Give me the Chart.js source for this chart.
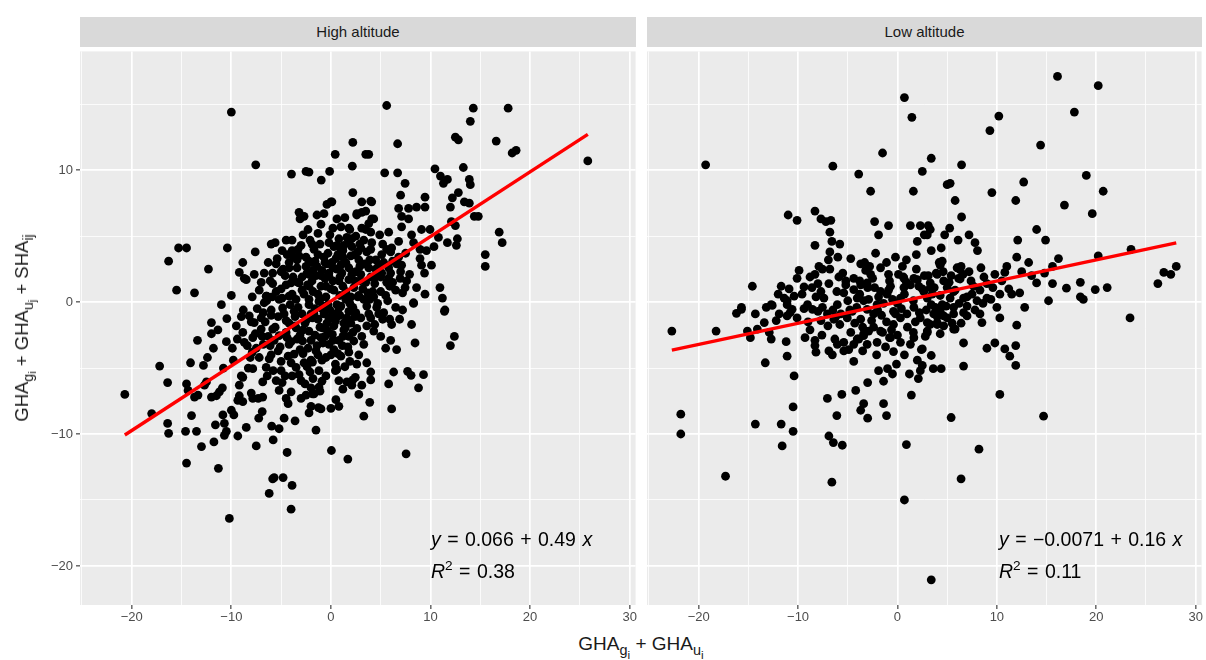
<!DOCTYPE html>
<html>
<head>
<meta charset="utf-8">
<script src="https://cdn.jsdelivr.net/npm/chart.js@4.4.1/dist/chart.umd.min.js"></script>
<style>
  body { margin: 0; width: 1206px; height: 660px; position: relative; overflow: hidden; background: #fff;
         font-family: "Liberation Sans", Arial, Helvetica, sans-serif; color: #1a1a1a; }
  canvas { position: absolute; }
  .strip { position: absolute; top: 17px; height: 30px; background: #d9d9d9; font-size: 15px;
           line-height: 30px; text-align: center; color: #1a1a1a; }
  .eq { position: absolute; font-size: 19.5px; color: #000; white-space: nowrap; line-height: 1; word-spacing: 1px; }
  .xtitle { position: absolute; left: 0; width: 1282px; top: 633px; text-align: center; font-size: 19px; }
  .ytitle { position: absolute; left: 22px; top: 328px; font-size: 18.5px; white-space: nowrap;
            transform: translate(-50%, -50%) rotate(-90deg); }
  sub { font-size: 76%; vertical-align: -0.35em; line-height: 0; }
  sub sub { font-size: 82%; vertical-align: -0.3em; }
</style>
</head>
<body>
<div class="strip" style="left:80px;width:556px;">High altitude</div>
<div class="strip" style="left:647px;width:555px;">Low altitude</div>
<canvas id="high" width="640" height="575" style="left:0;top:47px;"></canvas>
<canvas id="low" width="565" height="575" style="left:641px;top:47px;"></canvas>
<div class="eq" style="left:431px;top:530px;"><i>y</i> = 0.066 + 0.49 <i>x</i></div>
<div class="eq" style="left:431px;top:559px;"><i>R</i><sup style="font-size:70%">2</sup> = 0.38</div>
<div class="eq" style="left:999px;top:530px;"><i>y</i> = −0.0071 + 0.16 <i>x</i></div>
<div class="eq" style="left:999px;top:559px;"><i>R</i><sup style="font-size:70%">2</sup> = 0.11</div>
<div class="xtitle">GHA<sub>g<sub>i</sub></sub> + GHA<sub>u<sub>i</sub></sub></div>
<div class="ytitle">GHA<sub>g<sub>i</sub></sub> + GHA<sub>u<sub>j</sub></sub> + SHA<sub>ij</sub></div>
<script>
// panel values [GHA_g + GHA_u, GHA_g + GHA_u + SHA]
const highAlt = [
  [-10.0,14.4],[-7.55,10.4],[-3.96,9.7],[-2.5,9.9],[-2.2,9.85],[-0.97,9.25],[-0.13,9.9],[0.43,11.2],[2.2,12.1],[2.15,10.3],
  [3.5,11.2],[2.2,8.3],[3.1,7.6],[0,7.6],[-0.4,7.4],[-3.2,6.8],[-2.7,6.5],[-3.1,6.3],[-1.4,6.6],[-0.7,6.7],
  [0.6,6.3],[1.0,5.7],[1.9,5.5],[2.6,6.6],[3.1,6.8],[-2.8,5.1],[-1.3,5.2],[-0.1,5.1],[-2.1,4.7],[-4.5,4.7],
  [-3.9,4.7],[-3.0,4.3],[-6.0,4.4],[-5.6,4.5],[-4.9,3.9],[-3.9,3.9],[-7.6,3.8],[-10.4,4.1],[-15.3,4.1],[-14.5,4.1],
  [-16.3,3.1],[-12.3,2.5],[-15.5,0.9],[-13.7,0.7],[-8.85,3.0],[-9.2,2.25],[-8.5,1.7],[-7.7,2.1],[-6.7,2.2],[-5.85,2.2],
  [-5.0,2.3],[-5.85,1.4],[-4.2,2.6],[-4.0,1.45],[-3.3,1.5],[-6.45,0.45],[-6.45,0.1],[-3.2,3.5],[-2.2,3.1],[-2.2,2.1],
  [0.6,4.3],[1.3,4.3],[2.1,4.2],[3.0,4.1],[4.0,7.65],[2.6,6.7],[3.5,6.9],[4.1,6.3],[3.8,5.95],[3.1,5.6],
  [4.0,5.3],[1.8,5.6],[0.1,7.6],[5.6,14.9],[14.3,14.7],[17.8,14.7],[14.0,13.7],[12.5,12.5],[12.8,12.3],[6.7,12.0],
  [16.6,12.2],[18.2,11.3],[18.6,11.5],[25.8,10.7],[3.8,11.2],[5.4,9.8],[6.7,9.8],[7.45,9.0],[10.45,10.1],[11.0,9.55],
  [11.7,9.3],[11.3,9.0],[13.3,10.2],[13.9,9.3],[14.0,8.9],[7.0,8.1],[9.45,7.95],[12.8,8.3],[12.2,7.9],[13.4,7.6],
  [13.9,7.5],[12.0,7.2],[6.8,7.1],[7.8,7.1],[8.6,7.2],[9.45,7.2],[7.1,6.5],[7.8,6.3],[4.1,7.6],[4.3,6.3],
  [14.4,6.5],[14.8,6.5],[12.1,6.1],[12.5,5.8],[16.9,5.3],[17.2,4.5],[7.1,5.7],[5.8,5.3],[8.1,5.1],[9.1,5.5],
  [9.95,5.5],[10.8,4.9],[11.7,4.5],[12.7,4.8],[12.6,4.3],[10.35,4.2],[8.95,4.0],[8.95,3.3],[9.1,2.8],[9.4,2.2],
  [10.1,2.8],[15.5,3.6],[15.5,2.7],[6.1,4.1],[5.1,3.6],[7.1,2.8],[10.95,1.1],[11.2,0.3],[11.45,-0.6],[8.6,1.1],
  [9.45,0.6],[8.3,-0.05],[5.7,0.1],[6.95,1.8],[7.45,1.1],[5.8,1.8],[11.4,-0.7],[8.1,-1.7],[12.4,-2.6],[12.0,-3.3],
  [5.9,-1.3],[6.1,-1.7],[4.3,-2.2],[5.0,-2.6],[6.0,-2.9],[6.6,-3.6],[8.45,-3.1],[6.3,-5.3],[7.7,-5.25],[8.05,-5.55],
  [9.3,-5.5],[5.8,-6.2],[8.8,-6.5],[4.0,-5.3],[4.0,-5.9],[6.1,-8.1],[7.55,-11.5],[8.3,-0.1],[4.6,-0.4],[4.8,-0.9],
  [-20.7,-7.0],[-18.0,-8.45],[-17.2,-4.85],[-16.4,-6.1],[-16.4,-9.2],[-16.3,-9.95],[-14.6,-9.8],[-13.5,-9.8],[-14.5,-12.2],[-14.0,-8.6],
  [-14.1,-4.6],[-13.4,-2.9],[-12.4,-4.2],[-14.5,-6.2],[-14.35,-6.7],[-13.7,-7.2],[-13.35,-7.05],[-12.7,-6.3],[-12.5,-6.05],[-13.0,-10.95],
  [-11.75,-10.6],[-11.3,-12.6],[-12.0,-1.55],[-12.0,-2.4],[-11.35,-2.1],[-10.45,-1.25],[-12.0,-7.2],[-11.5,-7.1],[-11.2,-6.8],[-11.6,-9.3],
  [-10.7,-9.2],[-10.7,-10.1],[-10.5,-9.8],[-10.85,-8.55],[-10.0,-8.2],[-9.75,-8.55],[-10.2,-16.4],[-9.35,-10.15],[-8.5,-9.5],[-7.5,-10.9],
  [-9.35,-7.45],[-8.85,-7.55],[-7.85,-7.3],[-7.25,-8.8],[-5.95,-9.4],[-5.2,-9.6],[-5.8,-10.45],[-4.7,-8.8],[-4.4,-11.4],[-5.85,-13.4],
  [-5.7,-13.3],[-4.8,-13.3],[-3.9,-13.9],[-6.2,-14.5],[-4.0,-15.7],[-6.85,-7.2],[-1.5,-9.7],[0.05,-11.25],[1.7,-11.9],[-2.0,-7.9],
  [-1.25,-8.0],[-1.85,-6.95],[-1.1,-6.75],[0,-8.05],[0.8,-7.9],[3.3,-8.65],[2.45,-5.7],[3.1,-6.3],[0.45,-5.2],
  [-8.7,1.8],[-6.5,0.45],[-6.7,-0.05],[-5.5,0.8],[-4.5,1.3],[-4.2,0.45],[-3.2,1.45],[-2.35,1.3],[-0.2,1.95],[0.8,1.6],
  [2.1,2.1],[-8.2,-1.05],[-7.7,-1.55],[-7.0,-2.05],[-8.85,-2.3],[-8.7,-3.05],[-7.85,-2.7],[-7.2,-4.2],[-6.2,-4.3],[-6.5,-4.95],
  [-7.85,-5.05],[-8.85,-5.7],[-9.2,-6.3],[-6.85,-6.05],[-5.5,-5.95],[-5.2,-6.7],[-4.0,-6.8],[-5.85,-2.05],[-5.2,-2.55],[-4.5,-1.4],
  [-4.85,-0.45],[-3.7,-0.7],[-3.5,-1.95],[-4.2,-3.2],[-3.7,-3.95],[-3.5,-4.95],[-3.0,-5.95],[-2.85,-2.95],[-2.2,-2.2],[-1.85,-1.2],
  [-2.2,-0.2],[-1.2,0.05],[-0.7,-0.9],[-0.85,-1.95],[-1.5,-3.7],[-1.85,-4.55],[-1.2,-5.2],[-0.5,-4.2],[-0.2,-3.2],[0.15,-2.45],
  [0.45,-1.45],[0.8,-0.45],[1.45,0.6],[1.8,-0.7],[1.45,-1.95],[1.15,-3.3],[1.8,-3.8],[2.3,-2.95],[0.45,-4.7],[0.8,-5.95],
  [1.6,-6.05],[2.1,-6.3],[-1.2,-6.45],[-1.7,-6.95],[-2.5,-7.05],[-4.5,-7.3],
  [3.5,1.5],[4.2,0.8],[5.0,1.9],[5.5,0.5],[6.2,1.5],[7.0,2.3],[3.8,-0.9],[6.5,-0.4],[7.2,0.7],[3.0,-1.2],
  [2.7,0.4],[3.4,2.9],[4.5,3.2],[5.8,2.6],[6.8,3.4],[2.4,3.6],[1.5,3.0],[0.5,3.3],[-0.4,2.9],[-1.3,3.6],
  [-0.9,2.4],[0.2,2.6],[1.1,2.2],[2.9,2.7],[4.0,4.0],[5.2,4.4],[6.0,3.8],[3.3,4.7],[1.8,4.6],[0.8,4.8],
  [-1.7,4.0],[-2.5,3.4],[-1.8,2.4],[-1.0,1.2],[0.0,1.0],[1.2,1.2],[2.3,1.1],[-0.5,0.4],[0.6,-0.2],[1.5,0.2],
  [-1.6,-0.5],[-2.7,0.6],[-3.5,0.2],[-2.9,-0.9],[-4.2,-1.6],[-3.4,-2.8],[-2.3,-3.5],[-1.0,-2.7],[-0.2,-1.2],[0.9,-1.0],
  [2.0,-1.6],[2.6,-2.0],[1.8,-2.6],[0.3,-3.6],[-0.9,-4.4],[-2.1,-5.3],[-3.1,-3.6],[-5.1,-3.4],[-6.0,-1.0],[-5.2,0.2],
  [-4.5,-2.3],[-6.8,-3.2],[-7.4,-0.5],[-5.8,-5.2],[-4.6,-5.6],[-2.6,-6.2],[-0.5,-5.6],[1.0,-4.1],[2.8,-4.0],[3.3,-3.2],
  [4.4,-1.7],[5.2,-1.3],[-9.5,-1.8],[-10.5,-3.0],[-9.8,-4.4],[-8.8,-0.6],[-10.0,0.5],[-11.0,-0.2],[-11.8,-3.5],[-12.8,-4.8],
  [-9.2,-7.1],[-10.9,-6.5],[-8.0,-6.9],[-7.3,-7.3],[-1.0,-8.1],[0.5,-7.4],[2.8,-7.0],[3.9,-7.6],[-3.6,-9.0],[-2.2,-8.4],
  [0.3,4.2],[1.2,3.9],[2.0,3.5],[2.8,3.2],[3.6,3.8],[4.5,2.5],[5.3,3.0],[6.0,2.2],[0.9,0.5],[1.8,1.7],
  [2.5,2.3],[3.2,1.0],[4.0,1.9],[5.0,0.8],[-0.6,1.8],[-1.5,2.0],[-2.2,1.2],[-0.3,3.7],[-1.1,4.4],[-2.0,3.0],
  [0.4,-0.9],[1.3,-1.6],[2.2,-0.4],[-0.8,-0.3],[-1.8,0.8],[-2.6,-1.6],[-3.3,-0.4],[-3.9,0.6],[-4.7,-0.9],[-5.6,-1.9],
  [-6.3,-2.6],[-1.3,-1.3],[-0.3,-2.2],[0.8,-2.9],[1.7,-3.4],[2.4,-1.1],[3.6,-1.8],[3.9,0.2],[4.4,1.4],[-2.4,2.2],
  [-3.4,2.6],[-4.2,3.0],[-5.4,3.3],[-5.0,1.0],[-6.0,-0.6],[-7.0,-1.2],[-7.9,-3.8],[-6.4,-5.6],[-5.0,-4.5],[-4.0,-3.0],
  [-2.0,-4.4],[-1.6,-2.5],[0.0,-4.0],[1.4,-4.9],[2.2,-5.9],[-3.2,-5.5],[-4.3,-7.7],[-6.9,-8.3],[-8.3,-5.0],[-9.4,-2.8],
  [-8.0,-1.5],
  [-7.2,0.9],[-6.8,-0.8],[-6.1,1.6],[-5.7,-2.9],[-5.3,-1.1],[-4.9,0.3],[-4.6,2.0],[-4.3,-4.1],[-4.1,-0.2],[-3.8,1.9],
  [-3.6,-1.8],[-3.4,3.2],[-3.1,-2.5],[-2.9,0.9],[-2.7,-4.6],[-2.5,2.7],[-2.4,-1.3],[-2.2,0.2],[-2.0,-2.9],[-1.9,1.6],
  [-1.7,-0.9],[-1.6,3.1],[-1.4,-3.3],[-1.3,0.6],[-1.1,-1.9],[-1.0,2.0],[-0.9,-0.5],[-0.7,3.4],[-0.6,-2.6],[-0.5,1.2],
  [-0.4,-1.6],[-0.2,2.2],[-0.1,-0.6],[0.1,3.0],[0.2,-2.9],[0.3,0.9],[0.5,-1.2],[0.6,2.5],[0.7,-3.9],[0.9,1.9],
  [1.0,-0.3],[1.2,3.4],[1.3,-2.1],[1.5,0.8],[1.6,-1.2],[1.8,2.6],[1.9,-0.1],[2.1,4.8],[2.2,-2.3],[2.4,1.6],
  [2.5,-0.8],[2.7,3.8],[2.8,0.5],[3.0,2.1],[3.1,-2.6],[3.3,0.2],[3.5,5.5],[3.6,-0.3],[3.8,2.6],[4.0,-1.2],
  [4.1,4.5],[4.3,0.4],[4.5,1.9],[4.7,-0.1],[4.9,5.1],[5.1,2.2],[5.3,-0.8],[5.6,4.0],[5.9,1.2],[6.2,3.1],
  [6.5,0.9],[6.8,4.6],[7.2,-0.6],[7.5,3.7],[7.9,2.1],[8.3,4.5],[-6.6,-1.5],[-7.6,-2.4],[-8.1,-4.2],[-6.0,-4.0],
  [-5.0,-5.2],[-3.9,-5.6],[-2.8,-3.9],[-1.8,-5.8],[-0.8,-3.1],[0.6,-5.1],[-3.0,-7.3],[-2.0,-6.5],[1.2,-6.6],[-4.9,-6.1],
  [2.6,-4.7],[-5.5,2.9],[-6.3,3.0],[-3.3,4.0],[-2.3,5.5],[-1.0,5.9],[0.2,5.6],[1.4,6.4],[-1.9,4.4],[-0.2,4.5],
  [1.0,4.0],[2.5,5.0],[-4.4,3.6],[-7.0,1.5],[-7.9,0.4],[-9.0,-1.1],[-9.9,-3.5],[-8.4,-3.3],[-10.8,-5.0],[-9.0,-5.6],
  [0.7,3.6],[1.6,4.9],[2.9,4.4],[3.9,3.2],[4.8,2.8],[5.6,1.5],[6.6,2.9],[7.6,1.6],[0.2,1.6],[1.0,2.8],
  [2.0,0.4],[2.9,1.6],[3.7,0.7],[-0.3,-0.2],[-1.1,0.2],[-2.0,-0.9],[-2.8,-2.1],[-3.6,-1.1],[-4.4,-2.7],[-5.3,-3.7],
  [-6.1,-3.3],[-4.0,-4.6],[-2.4,-4.9],[-1.3,-4.0],[0.3,-1.8],[1.2,-2.6],[-0.6,3.0],[-1.4,2.7],[-2.9,1.9],[-3.7,3.4],
  [-4.8,2.5],[-5.9,0.4],[-6.9,-2.6],[-7.5,-3.5],[1.9,-4.5],[-0.9,-6.0],[3.6,-4.6],[5.5,-3.5],[6.9,-1.3],[9.6,3.9]
];

const lowAlt = [
  [-19.3,10.4],[-6.5,10.3],[-3.9,9.7],[-2.7,8.4],[-1.5,11.3],[0.7,15.5],[1.45,14.0],[1.6,8.4],[2.5,9.9],[-2.3,6.1],
  [-0.9,5.8],[-1.9,5.1],[1.3,5.8],[2.3,5.8],[2.0,4.6],[2.7,5.1],[-11.0,6.6],[-10.1,6.2],[-8.3,6.9],[-7.7,6.3],
  [-7.2,6.1],[-6.7,6.2],[-6.8,5.3],[-6.6,4.6],[-8.3,4.3],[-6.8,3.8],[-6.0,3.4],[-6.95,3.2],[-7.55,2.5],[-6.8,2.5],
  [-3.7,2.9],[-3.3,3.0],[-2.7,2.1],[-0.9,2.1],[-14.6,1.2],[-11.7,1.2],[-10.9,1.0],[-9.4,1.15],[-8.8,1.9],[-8.3,2.1],
  [-8.0,1.4],[-7.7,0.8],[-5.2,1.6],[-3.8,1.6],[-3.0,1.1],[0.6,1.9],[2.0,1.7],[-15.7,-0.4],[-12.6,-0.25],[-10.4,0.45],
  [-11.1,0.1],[16.1,17.1],[20.2,16.4],[17.8,14.4],[10.2,14.1],[9.3,13.0],[14.4,11.9],[3.4,10.9],[6.45,10.4],[5.0,8.9],
  [5.3,9.0],[5.8,7.7],[6.45,6.45],[9.5,8.3],[12.7,9.1],[11.9,7.7],[19.0,9.6],[20.7,8.4],[16.8,7.35],[19.6,6.7],
  [14.0,5.5],[14.9,4.7],[12.1,4.7],[23.5,4.0],[20.2,3.5],[21.1,1.1],[19.9,0.95],[17.0,1.05],[18.4,1.5],[18.4,0.4],
  [18.7,0.2],[28.05,2.7],[26.8,2.25],[27.5,2.1],[26.2,1.4],[3.1,5.8],[3.3,5.5],[3.0,5.1],[4.75,5.1],[5.25,5.6],
  [7.2,5.1],[7.8,4.5],[8.05,3.9],[6.1,4.7],[4.4,4.1],[4.5,3.1],[4.3,2.8],[3.9,2.2],[6.4,2.7],[6.3,2.45],
  [6.3,1.75],[12.0,3.4],[13.2,3.0],[15.6,2.7],[12.5,2.3],[10.8,2.25],[9.8,2.1],[8.7,1.9],[14.0,1.45],[15.6,1.4],
  [15.2,0.1],[12.8,-0.4],[9.4,0.2],[10.3,0.6],[11.5,0.6],[12.3,0.7],[7.65,1.2],[6.65,0.3],[5.65,0.8],[3.3,1.1],
  [23.4,-1.2],[12.0,-1.75],[8.3,-0.9],[8.5,-1.55],[6.65,-3.1],[6.65,-4.85],[9.0,-3.5],[9.8,-3.1],[10.8,-3.55],[11.9,-3.3],
  [11.3,-4.1],[11.9,-4.8],[10.3,-7.0],[5.4,-8.75],[14.7,-8.65],[8.2,-11.15],[6.4,-13.4],[3.4,-21.05],[3.4,-4.05],[3.6,-5.05],
  [4.4,-5.05],[2.5,-4.8],[2.5,-3.55],[3.0,-2.3],[4.3,-2.4],[5.8,-2.05],[4.65,-1.05],[3.8,-0.4],[5.65,-0.4],[6.65,-0.8],
  [7.0,-1.05],[3.3,-1.7],[4.0,-1.7],[-22.7,-2.2],[-18.25,-2.2],[-21.8,-8.5],[-21.8,-10.0],[-17.3,-13.2],[-16.2,-0.85],[-15.7,-0.55],
  [-14.3,-0.9],[-15.1,-2.2],[-14.8,-2.7],[-14.1,-2.05],[-13.4,-1.55],[-12.9,-2.3],[-12.7,-2.8],[-13.3,-4.6],[-11.2,-3.0],[-11.1,-4.1],
  [-10.4,-5.6],[-10.5,-7.95],[-10.5,-9.8],[-11.6,-10.9],[-11.7,-9.25],[-14.3,-9.25],[-9.3,-2.7],[-8.3,-2.9],[-8.3,-3.3],[-8.2,-3.8],
  [-6.9,-3.7],[-6.55,-4.0],[-6.05,-3.2],[-5.4,-3.05],[-5.4,-3.7],[-4.4,-4.5],[-7.05,-7.3],[-5.6,-7.0],[-6.1,-8.6],[-4.2,-6.7],
  [-3.0,-6.1],[-1.4,-6.0],[-3.4,-7.7],[-3.7,-8.2],[-3.0,-8.8],[-1.4,-7.7],[-1.1,-8.6],[-6.9,-10.15],[-6.45,-10.65],[-5.55,-10.85],
  [-6.6,-13.65],[0.9,-10.8],[0.7,-15.0],[-3.5,-3.7],[-2.1,-4.0],[-0.4,-3.75],[0.7,-4.0],[2.4,-3.6],[1.2,-5.45],[2.1,-5.8],
  [2.3,-5.2],[1.4,-7.05],[-1.0,-5.05],[-0.5,-5.45],[-1.5,-2.3],[-0.8,-2.7],[-3.4,-2.4],[-3.9,-2.8],[-4.4,-3.2],
  [-12.7,-0.2],[-11.4,0.3],[-11.1,-0.2],[-10.6,-0.55],[-11.9,-0.9],[-12.2,-1.4],[-11.1,-1.05],[-10.1,-1.2],
  [-9.05,-0.2],[-8.55,-0.55],[-7.55,-0.4],[-7.05,-0.9],[-7.7,-1.4],[-6.4,-1.3],[-5.7,-0.9],[-6.05,-0.2],[-5.4,0.7],[-5.2,1.3],
  [-4.4,0.95],[-4.05,0.3],[-4.55,-0.7],[-5.05,-1.2],[-3.7,-1.3],[-3.05,-0.55],[-2.4,-0.9],[-2.05,-0.2],[-3.7,1.3],[-3.05,1.45],
  [-1.7,0.8],[-1.05,0.6],[-0.7,1.2],[0.3,0.3],[0.65,1.1],[0.65,1.8],[1.65,1.8],[2.15,1.2],[2.65,0.8],[3.0,0.3],
  [3.3,1.45],[4.0,2.1],[4.65,1.6],[5.0,1.1],[5.3,0.3],[6.0,2.6],[6.15,1.8],[-0.4,-0.7],[0.3,-1.2],[0.95,-0.9],
  [1.65,-0.4],[2.3,-1.2],[3.0,-1.55],[3.65,-0.9],[4.3,-0.7],[5.0,-1.2],[5.65,-0.9],[-2.4,-1.9],[-1.7,-2.2],[-0.4,-1.7],
  [-3.4,-2.55],[-4.05,-2.8],[-3.05,-3.2],[-2.05,-3.05],[-0.7,-2.7],[0.3,-3.05],[1.65,-2.7],[3.0,-2.2],[4.0,-1.55],[4.65,-1.8],
  [5.65,-2.05],[7.5,0.6],[8.3,0.9],[9.0,1.4],[10.5,1.6],[11.2,1.0],[7.0,-0.3],[8.0,0.1],[13.5,2.0],[14.8,2.2],
  [16.2,3.3],[10.0,-0.4],
  [-9.6,0.6],[-9.0,-1.5],[-8.6,1.1],[-8.0,-0.7],[-7.4,0.3],[-6.9,1.4],[-6.5,-0.6],[-6.1,0.8],[-5.8,-1.7],[-5.5,2.2],
  [-5.0,0.1],[-4.7,-2.3],[-4.4,1.8],[-4.1,-0.4],[-3.8,0.6],[-3.5,-1.9],[-3.2,2.4],[-2.9,0.2],[-2.6,-1.4],[-2.3,1.1],
  [-2.0,-0.6],[-1.7,2.6],[-1.4,-0.1],[-1.1,-1.5],[-0.8,1.6],[-0.5,0.2],[-0.2,-0.9],[0.1,2.1],[0.4,-0.5],[0.7,0.6],
  [1.0,-1.9],[1.3,1.3],[1.6,0.1],[1.9,2.5],[2.2,-0.8],[2.5,1.0],[2.8,-2.6],[3.1,2.0],[3.4,-0.2],[3.7,1.1],
  [4.0,-1.1],[4.3,0.5],[4.6,2.3],[4.9,-0.3],[5.2,1.5],[5.5,-1.6],[5.8,0.9],[6.2,-0.1],[6.6,2.1],[7.0,0.4],
  [7.4,1.6],[7.8,-0.6],[8.4,2.6],[9.0,0.3],[9.6,1.1],[10.3,-1.2],[11.0,2.7],[-8.8,-2.1],[-7.6,-2.5],[-6.3,-2.8],
  [-4.9,-3.6],[-2.9,-2.2],[-1.2,-3.4],[0.0,-2.5],[1.3,-3.2],[2.0,-4.4],[-0.1,-4.7],[-1.9,-5.2],[-0.2,3.4],[0.9,3.2],
  [1.9,3.6],[-1.1,3.0],[-2.2,3.7],[3.4,3.9],[-4.7,3.3],[-5.8,4.4],[-9.9,2.4],[-10.8,-0.8],[-12.0,0.6],[-13.2,-0.4],
  [-8.2,0.4],[-7.0,-1.8],[-5.9,1.9],[-4.8,-0.6],[-3.4,0.1],[-2.5,1.8],[-1.6,-1.0],[-0.9,0.9],[0.0,-0.1],[0.9,1.5],
  [1.8,-1.5],[2.7,2.0],[3.5,0.6],[4.5,-0.2],[5.4,2.0],[6.4,-1.6],[7.2,2.3],[8.6,-0.1],[-6.2,-1.1],[-4.3,-1.6],
  [-2.8,2.7],[-1.9,0.4],[-0.6,-2.1],[0.5,2.7],[1.6,-2.3],[2.9,-0.6],[4.2,3.0],[-9.4,-0.5],[-10.1,1.8],[-7.9,2.7]
];

const panelPoints = [highAlt, lowAlt];
const fitIntercept = [0.066, -0.0071];
const fitSlope = [0.49, 0.16];
const xLimits = [-25.2, 30.6];
const yLimits = [-22.96, 19.0];

const fontFamily = '"Liberation Sans", Arial, Helvetica, sans-serif';
const isMajor = v => Math.abs(v % 10) < 1e-9;
const fmt = v => (v < 0 ? '\u2212' + Math.abs(v) : String(v));

const bgPlugin = {
  id: 'panelBg',
  beforeDraw(chart) {
    const a = chart.chartArea, c = chart.ctx;
    c.save();
    c.fillStyle = '#ebebeb';
    c.fillRect(a.left, a.top, a.right - a.left, a.bottom - a.top);
    c.restore();
  }
};

function axisOpts(min, max, showLabels, isX) {
  return {
    type: 'linear',
    min: min, max: max,
    border: { display: false },
    grid: {
      color: '#ffffff',
      lineWidth: ctx => (ctx.tick && isMajor(ctx.tick.value) ? 1.7 : 0.8),
      drawTicks: showLabels,
      tickLength: 4,
      tickWidth: 1.1,
      tickColor: ctx => (ctx.tick && isMajor(ctx.tick.value) ? '#333333' : 'rgba(0,0,0,0)')
    },
    ticks: {
      display: showLabels,
      stepSize: 5,
      includeBounds: false,
      autoSkip: false,
      maxRotation: 0,
      padding: isX ? 1 : 3,
      color: '#4d4d4d',
      font: { family: fontFamily, size: 13 },
      callback: v => (isMajor(v) ? fmt(v) : '')
    },
    afterFit: scale => {
      if (isX) { scale.height = 17; scale.paddingLeft = 0; scale.paddingRight = 0; }
      else { scale.width = showLabels ? 80 : 6; scale.paddingTop = 0; scale.paddingBottom = 0; }
    }
  };
}

function makePanel(id, idx, showY) {
  const pts = panelPoints[idx];
  const xs = pts.map(p => p[0]);
  const lo = Math.min(...xs), hi = Math.max(...xs);
  const a = fitIntercept[idx], b = fitSlope[idx];
  new Chart(document.getElementById(id), {
    type: 'scatter',
    data: {
      datasets: [
        {
          data: pts.map(p => ({ x: p[0], y: p[1] })),
          backgroundColor: '#000000',
          borderWidth: 0,
          pointRadius: 4.4,
          order: 1
        },
        {
          type: 'line',
          data: [{ x: lo, y: a + b * lo }, { x: hi, y: a + b * hi }],
          borderColor: '#ff0000',
          borderWidth: 3.4,
          pointRadius: 0,
          order: 0
        }
      ]
    },
    options: {
      responsive: false,
      animation: false,
      devicePixelRatio: 1,
      layout: { padding: { top: 0, right: 4, bottom: 0, left: 0 } },
      plugins: { legend: { display: false }, tooltip: { enabled: false } },
      scales: {
        x: axisOpts(xLimits[0], xLimits[1], true, true),
        y: axisOpts(yLimits[0], yLimits[1], showY, false)
      }
    },
    plugins: [bgPlugin]
  });
}

makePanel('high', 0, true);
makePanel('low', 1, false);
</script>
</body>
</html>
